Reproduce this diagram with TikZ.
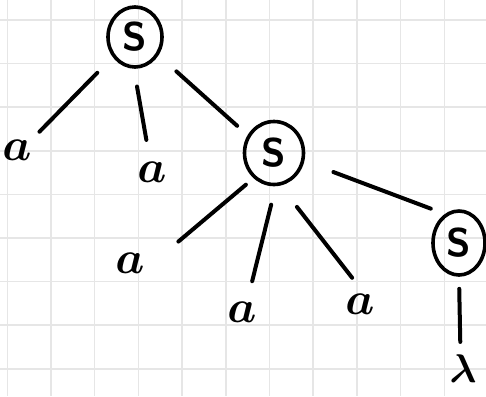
\RequirePackage{fix-cm}
\documentclass[tikz,border=0pt]{standalone}
\usepackage{xcolor}
\definecolor{gridgray}{RGB}{230,230,230}
\usetikzlibrary{shapes.geometric}
\tikzset{
  gridline/.style={draw=gridgray, line width=1.5pt},
  varnode/.style={draw, ellipse, line width=3.6pt, inner sep=0pt, font=\sffamily\bfseries\fontsize{40}{40}\selectfont},
  leafnode/.style={inner sep=0pt, font=\boldmath\fontsize{46}{46}\selectfont},
  treeedge/.style={line width=4pt, line cap=round},
}
\begin{document}
\begin{tikzpicture}[x=1pt, y=-1pt]
  \useasboundingbox[fill=white] (0,0) rectangle (486,396);
  % grid paper
  \foreach \gx in {0,...,10}
    \draw[gridline] ({7.3+43.7*\gx},0) -- ({7.3+43.7*\gx},396);
  \foreach \gy in {0,...,8}
    \draw[gridline] (0,{20+43.6*\gy}) -- (486,{20+43.6*\gy});

  % variables
  \node[varnode, minimum width=54pt, minimum height=60pt] (root) at (135,37) {S};
  \node[varnode, minimum width=59pt, minimum height=63pt] (s2) at (274,153) {S};
  \node[varnode, minimum width=52pt, minimum height=64pt] (s3) at (459,243) {S};

  % leaves
  \node[leafnode] (a1) at (17,150) {$a$};
  \node[leafnode] (a2) at (152,172) {$a$};
  \node[leafnode] (a3) at (130,263) {$a$};
  \node[leafnode] (a4) at (242,312) {$a$};
  \node[leafnode] (a5) at (360,304) {$a$};
  \node[leafnode, font=\boldmath\fontsize{40}{40}\selectfont] (lam) at (463,369) {$\lambda$};

  % edges
  \draw[treeedge, shorten <=22pt, shorten >=11pt] (root.222) -- (a1.north east);
  \draw[treeedge, shorten <=18pt, shorten >=22pt] (root.268) -- (a2.100);
  \draw[treeedge, shorten <=24pt, shorten >=14pt] (root.322) -- (s2.146);
  \draw[treeedge, shorten <=10pt, shorten >=44pt] (s2.231) -- (a3.335);
  \draw[treeedge, shorten <=19pt, shorten >=21pt] (s2.273) -- (a4.64);
  \draw[treeedge, shorten <=27pt, shorten >=20pt] (s2.281) -- (a5.67);
  \draw[treeedge, shorten <=31pt, shorten >=15pt] (s2.345) -- (s3.116);
  \draw[treeedge, shorten <=12pt, shorten >=13pt] (s3.270) -- (lam.100);
\end{tikzpicture}
\end{document}
